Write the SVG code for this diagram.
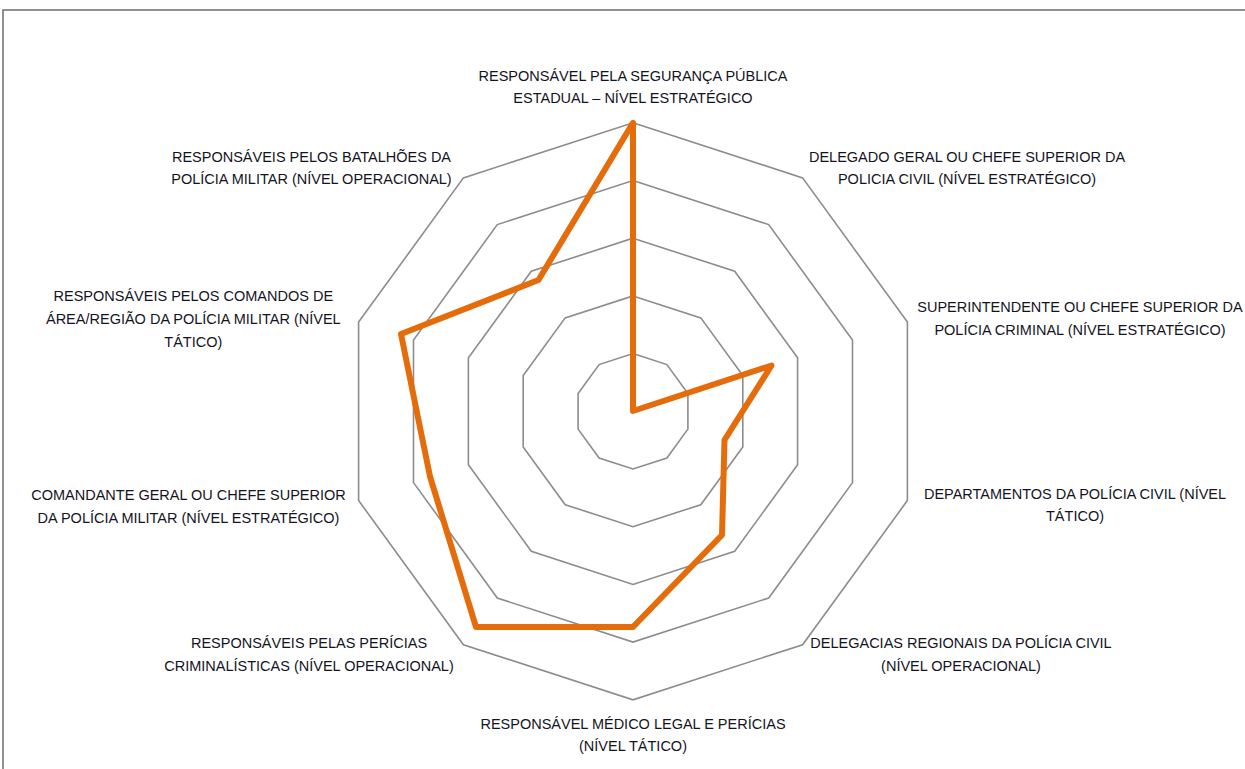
<svg xmlns="http://www.w3.org/2000/svg" width="1245" height="769" viewBox="0 0 1245 769">
<style>
.grid{fill:none;stroke:#8c8c8c;stroke-width:1.6}
.frame{fill:none;stroke:#6e6e6e;stroke-width:1.5}
.series{fill:none;stroke:#E46C0A;stroke-width:6;stroke-linejoin:round;stroke-linecap:round}
.lbl{font-family:"Liberation Sans",Arial,sans-serif;font-size:14.5px;fill:#14141e;text-anchor:middle}
</style>
<rect width="1245" height="769" fill="#ffffff"/>
<g id="frame">
<polyline class="frame" points="3,769 3,10 1245,10"/>
</g>
<g id="grid">
<polygon class="grid" points="633,122.8 802.6,177.9 907.4,322.1 907.4,500.5 802.6,644.7 633,699.8 463.4,644.7 358.6,500.5 358.6,322.1 463.4,177.9"/>
<polygon class="grid" points="633,180.5 768.7,224.6 852.5,340 852.5,482.6 768.7,598 633,642.1 497.3,598 413.5,482.6 413.5,340 497.3,224.6"/>
<polygon class="grid" points="633,238.2 734.7,271.3 797.6,357.8 797.6,464.8 734.7,551.3 633,584.4 531.3,551.3 468.4,464.8 468.4,357.8 531.3,271.3"/>
<polygon class="grid" points="633,295.9 700.8,317.9 742.8,375.6 742.8,447 700.8,504.7 633,526.7 565.2,504.7 523.2,447 523.2,375.6 565.2,317.9"/>
<polygon class="grid" points="633,353.6 666.9,364.6 687.9,393.5 687.9,429.1 666.9,458 633,469 599.1,458 578.1,429.1 578.1,393.5 599.1,364.6"/>
</g>
<g id="connectors">
<polygon id="series" class="series" points="633,122.8 633,411 771.5,365.5 724.5,440 722,535 633,627 476,627 430,476.5 401,334 538.5,280"/>
</g>
<g id="label-1"><text class="lbl" x="633" y="80.5">RESPONSÁVEL PELA SEGURANÇA PÚBLICA</text><text class="lbl" x="633" y="103">ESTADUAL – NÍVEL ESTRATÉGICO</text></g>
<g id="label-2"><text class="lbl" x="967" y="161.5">DELEGADO GERAL OU CHEFE SUPERIOR DA</text><text class="lbl" x="967" y="184">POLICIA CIVIL (NÍVEL ESTRATÉGICO)</text></g>
<g id="label-3"><text class="lbl" x="1080" y="311.5">SUPERINTENDENTE OU CHEFE SUPERIOR DA</text><text class="lbl" x="1080" y="334.5">POLÍCIA CRIMINAL (NÍVEL ESTRATÉGICO)</text></g>
<g id="label-4"><text class="lbl" x="1075" y="498.5">DEPARTAMENTOS DA POLÍCIA CIVIL (NÍVEL</text><text class="lbl" x="1075" y="521">TÁTICO)</text></g>
<g id="label-5"><text class="lbl" x="961" y="647.5">DELEGACIAS REGIONAIS DA POLÍCIA CIVIL</text><text class="lbl" x="961" y="670.5">(NÍVEL OPERACIONAL)</text></g>
<g id="label-6"><text class="lbl" x="633" y="728.5">RESPONSÁVEL MÉDICO LEGAL E PERÍCIAS</text><text class="lbl" x="633" y="751">(NÍVEL TÁTICO)</text></g>
<g id="label-7"><text class="lbl" x="309" y="647.5">RESPONSÁVEIS PELAS PERÍCIAS</text><text class="lbl" x="309" y="670.5">CRIMINALÍSTICAS (NÍVEL OPERACIONAL)</text></g>
<g id="label-8"><text class="lbl" x="188.5" y="500">COMANDANTE GERAL OU CHEFE SUPERIOR</text><text class="lbl" x="188.5" y="522.5">DA POLÍCIA MILITAR (NÍVEL ESTRATÉGICO)</text></g>
<g id="label-9"><text class="lbl" x="193.3" y="300.7">RESPONSÁVEIS PELOS COMANDOS DE</text><text class="lbl" x="193.3" y="324">ÁREA/REGIÃO DA POLÍCIA MILITAR (NÍVEL</text><text class="lbl" x="193.3" y="346.7">TÁTICO)</text></g>
<g id="label-10"><text class="lbl" x="311.5" y="161.5">RESPONSÁVEIS PELOS BATALHÕES DA</text><text class="lbl" x="311.5" y="184">POLÍCIA MILITAR (NÍVEL OPERACIONAL)</text></g>
</svg>
